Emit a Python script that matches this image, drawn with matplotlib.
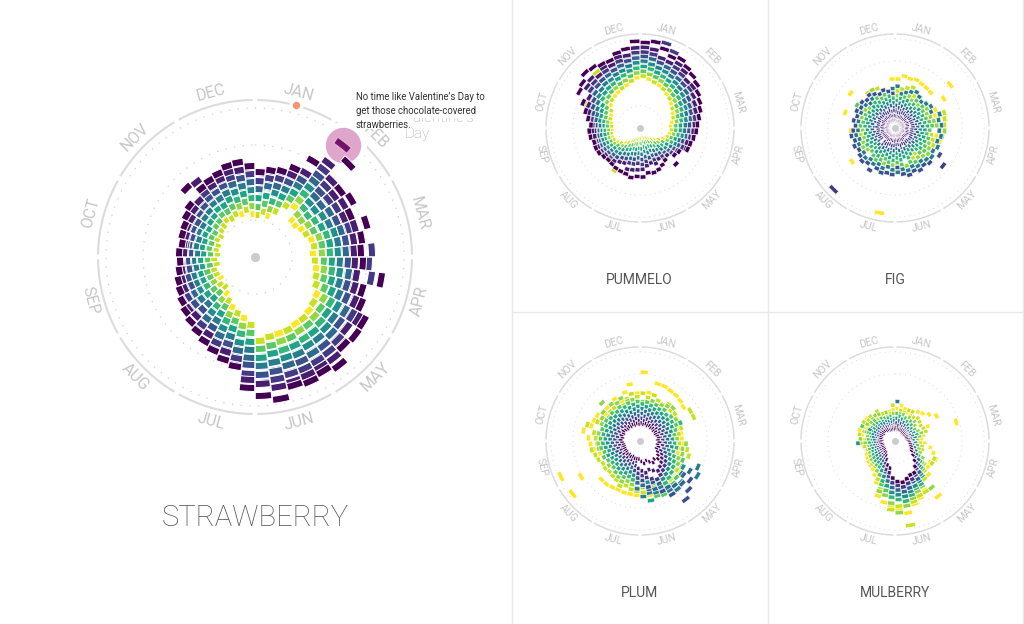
import numpy as np
import matplotlib
matplotlib.use("Agg")
import matplotlib.pyplot as plt
from matplotlib.lines import Line2D
from matplotlib.patches import Rectangle

plt.rcParams['font.family'] = ['Roboto', 'DejaVu Sans']

MONTHS = ['JAN','FEB','MAR','APR','MAY','JUN','JUL','AUG','SEP','OCT','NOV','DEC']
TITLES = ['STRAWBERRY','PUMMELO','FIG','PLUM','MULBERRY']
ANNOTATION = "No time like Valentine’s Day to\nget those chocolate-covered\nstrawberries."
HIDDEN_LABEL = "Valentine’s\nDay"

# each row: one week of the year; each column: one year, yellow (first) to purple (last)
STRAWBERRY = [
[42,42,50,50,58,59,66,67,68,75,76,84,85],[45,46,54,54,62,62,70,71,72,79,80,87,88],
[43,50,50,58,58,66,67,74,74,82,82,89,90],[50,50,58,58,65,66,73,74,81,82,89,90,97],
[60,60,67,68,75,75,82,83,90,90,97,98,112],[64,71,72,79,80,87,88,95,96,103,111,119,142],
[52,60,60,68,69,76,77,84,85,92,100,108,132],[51,58,59,67,67,75,76,84,84,92,93,100,108],
[54,62,62,70,70,78,79,86,87,95,95,103,112],[56,56,64,64,72,73,80,81,88,89,96,97,104],
[59,66,67,74,75,82,83,90,90,97,98,104,116],[60,60,68,68,76,76,84,84,92,92,100,100,108],
[58,66,67,74,75,83,83,90,91,98,117,99,106],[60,60,68,69,76,77,84,85,92,93,114,100,108],
[62,70,70,78,78,86,86,94,95,102,118,103,128],[63,64,71,72,79,80,87,88,95,96,103,104,112],
[67,67,75,76,84,84,92,92,100,100,108,109,116],[72,79,80,88,88,96,96,104,105,112,113,120,126],
[74,74,82,83,90,91,99,99,107,107,115,116,127],[76,84,84,92,92,100,100,108,108,116,117,124,125],
[77,78,86,86,94,95,103,103,111,112,120,128,137],[78,85,86,94,95,103,103,111,112,120,121,128,133],
[79,80,88,88,96,97,105,106,114,114,122,129,136],[80,88,88,96,97,105,105,113,113,121,122,130,134],
[81,81,89,90,98,98,107,107,115,116,124,132,144],[83,84,92,92,100,101,109,109,118,118,126,127,139],
[67,68,76,76,84,85,93,93,101,108,117,123,131],[62,70,70,78,78,86,87,94,95,102,103,110,111],
[58,59,66,67,74,75,82,83,90,91,98,99,107],[55,62,63,70,70,78,78,85,86,93,94,101,102],
[50,51,58,58,66,66,74,74,82,82,90,90,98],[46,53,54,61,62,69,70,77,78,85,86,93,94],
[41,42,50,50,58,58,66,66,74,74,82,83,91],[44,44,52,52,60,60,67,68,75,76,83,84,88],
[40,47,48,55,56,63,64,70,71,77,78,84,85],[41,42,49,49,56,57,63,64,70,70,76,77,82],
[43,43,50,50,57,57,63,64,70,70,76,76,80],[38,39,46,46,53,54,60,60,66,67,73,74,77],
[41,41,48,48,54,55,61,62,67,68,73,74,75],[37,38,44,45,51,52,58,58,64,65,70,71,76],
[40,40,46,47,53,54,60,60,66,67,70,72,74],[38,39,45,46,52,53,59,59,65,66,71,72,76],
[41,42,48,48,54,55,61,62,67,68,73,74,77],[40,40,46,47,53,54,60,61,67,67,73,74,80],
[42,43,49,50,56,57,63,64,70,71,76,77,83],[43,44,51,51,57,58,64,65,71,72,78,79,97],
[46,47,53,54,60,61,67,68,74,75,81,95,87],[44,45,52,53,60,60,67,68,75,76,82,83,89],
[47,47,55,55,62,63,70,70,77,78,84,85,91],[45,52,53,60,60,67,68,75,76,83,83,89,95],
[48,48,56,56,64,64,71,72,79,80,87,88,96],[43,50,51,59,59,66,67,74,75,82,83,90,91],
]
PUMMELO = [
[86,87,95,95,103,103,111,112,119,120,127,135,143],[83,91,91,99,100,107,108,116,117,124,125,133,146],
[80,80,88,89,97,97,105,105,113,114,148,122,138],[78,86,86,94,94,102,103,110,111,119,139,120,130],
[75,76,84,84,92,92,100,101,108,109,117,125,134],[72,80,80,88,88,96,96,104,104,112,113,120,128],
[69,70,78,78,86,86,94,94,102,103,110,111,124],[66,74,74,82,82,90,90,98,98,106,106,112,120],
[62,63,71,71,79,79,87,87,95,95,103,104,113],[60,67,68,75,76,83,84,90,91,98,99,100,109],
[57,58,65,66,73,73,81,81,88,89,96,97,105],[54,62,62,70,70,77,78,85,86,92,93,99,100],
[51,84,59,60,67,68,75,76,83,83,90,91,96],[52,53,60,60,67,68,74,75,81,82,88,89,94],
[50,57,57,64,65,71,72,78,79,84,85,90,91],[47,48,54,55,61,62,68,69,75,75,81,82,88],
[42,50,50,57,58,64,65,71,71,77,78,84,87],[35,36,44,44,52,52,59,60,66,67,72,73,76],
[30,38,38,46,46,53,54,60,61,66,67,72,73],[26,27,34,35,42,43,50,50,57,58,63,64,85],
[22,30,30,37,38,45,46,52,53,60,60,66,68],[18,19,27,27,35,35,43,44,51,52,59,60,72],
[17,25,25,33,33,41,41,49,50,57,58,65,76],[16,17,25,26,34,35,43,43,51,52,60,61,78],
[15,23,23,31,32,40,40,48,49,56,57,64,76],[16,17,25,26,34,35,43,44,52,53,61,69,82],
[17,25,25,33,34,42,42,50,50,58,59,70,81],[18,19,27,27,35,36,44,44,52,53,61,71,84],
[20,28,28,36,36,44,45,52,53,60,61,72,80],[22,23,31,31,39,39,47,48,55,56,63,64,79],
[25,83,33,34,41,42,49,50,57,58,65,66,78],[30,31,38,39,46,46,53,54,61,62,69,70,76],
[34,41,42,48,49,55,56,62,63,69,70,74,75],[40,40,47,47,54,54,60,61,66,67,72,73,77],
[44,50,50,56,56,62,63,68,69,74,75,79,80],[47,48,53,54,59,60,65,66,71,72,76,77,81],
[49,55,55,60,61,66,66,71,72,76,76,79,80],[48,49,54,55,60,60,66,67,72,72,76,77,84],
[47,53,53,59,60,65,66,70,71,75,76,80,85],[47,48,54,55,61,62,67,68,73,74,78,79,82],
[49,55,55,62,62,68,69,75,75,81,82,87,88],[51,52,60,60,67,68,75,75,82,82,88,89,95],
[53,101,62,62,70,70,78,78,85,86,93,94,104],[55,56,64,65,73,73,81,82,90,90,98,99,118],
[62,70,70,78,79,87,87,95,95,103,104,112,122],[65,66,74,74,82,83,91,91,100,100,108,116,130],
[68,118,76,77,85,85,93,94,102,102,110,111,128],[70,78,78,86,86,94,94,102,103,110,111,118,124],
[72,73,81,81,89,90,98,98,106,106,114,115,123],[75,83,83,91,92,100,100,108,109,116,117,124,131],
[79,80,88,88,96,97,105,105,113,114,122,123,134],[84,91,92,100,100,108,109,117,117,125,126,134,145],
]
FIG = [
[82,62,54,46,46,38,38,70,38,30,28,20,12],[88,66,58,50,50,42,42,58,34,34,26,19,11],
[86,70,62,54,46,46,38,62,38,30,26,18,10],[88,74,58,50,42,50,42,66,34,34,28,20,12],
[86,62,54,46,46,38,38,70,38,30,28,20,12],[85,66,58,58,50,42,42,66,34,34,27,19,11],
[84,54,54,46,46,38,38,62,38,30,26,20,12],[117,66,58,58,50,50,42,66,34,34,28,21,13],
[95,70,62,54,46,46,38,70,38,30,29,20,12],[74,66,58,50,50,42,42,66,34,34,28,22,14],
[70,86,62,54,46,38,38,78,38,30,29,21,12],[86,84,66,58,50,42,42,74,34,34,30,21,13],
[62,83,70,62,54,46,46,78,38,30,30,20,12],[82,74,83,58,50,50,42,74,34,34,28,19,11],
[70,62,80,54,46,46,38,78,38,30,28,20,12],[78,66,74,58,50,50,42,74,34,34,28,21,13],
[62,70,62,54,54,46,38,78,38,30,29,22,14],[66,58,66,58,50,42,42,74,34,87,30,21,12],
[62,54,70,62,54,46,38,78,38,30,102,20,11],[58,66,66,58,50,42,42,74,34,82,28,19,12],
[62,54,62,70,46,46,38,70,38,78,29,21,13],[50,58,66,66,50,42,42,74,34,82,30,22,14],
[54,46,62,62,54,46,38,70,38,78,28,20,12],[66,42,66,74,50,50,42,74,34,82,30,21,13],
[62,46,70,62,54,46,38,70,38,78,28,21,12],[50,74,66,58,50,42,34,74,34,66,27,20,11],
[46,46,62,70,54,46,38,70,38,78,29,22,13],[144,50,66,58,50,50,42,66,34,76,30,21,12],
[74,54,62,54,46,46,38,70,38,78,28,20,12],[50,58,66,58,50,42,42,66,34,74,29,21,13],
[46,46,62,62,54,46,38,70,38,82,30,22,14],[42,74,66,58,50,50,42,66,34,74,28,20,12],
[46,54,54,54,46,38,38,70,38,78,145,20,12],[91,50,58,50,50,42,34,66,34,74,28,20,12],
[46,46,62,54,54,46,38,70,38,70,29,21,13],[42,58,58,50,50,42,42,66,34,74,28,20,12],
[46,54,54,62,46,46,38,62,38,70,30,22,13],[74,58,66,50,50,42,42,66,34,74,28,21,13],
[74,46,54,62,46,46,38,62,38,70,28,20,12],[50,42,58,58,50,42,42,66,34,66,30,22,14],
[54,46,62,54,46,46,38,62,38,70,28,21,13],[87,50,58,50,50,42,42,66,34,66,29,20,12],
[46,54,62,54,46,46,38,62,38,70,28,21,12],[50,58,58,74,50,42,42,66,34,66,30,22,14],
[94,54,54,62,46,46,38,62,38,70,29,20,12],[42,50,58,66,50,50,42,58,34,66,28,21,13],
[46,74,62,54,54,46,38,62,38,70,30,22,14],[50,58,74,58,50,42,42,66,34,66,28,20,12],
[54,72,62,54,46,46,38,62,38,62,28,21,13],[50,58,66,58,50,42,42,66,34,66,30,22,14],
[54,46,62,54,54,46,38,62,38,62,28,20,12],[82,58,66,50,50,42,42,66,34,58,29,21,12],
]
PLUM = [
[115,80,66,62,62,54,54,46,46,38,38,30,30],[82,74,66,66,58,58,50,50,42,42,34,34,28],
[100,80,70,62,62,54,54,46,46,38,38,30,30],[100,74,66,66,58,58,50,50,42,42,34,34,28],
[98,72,70,62,62,54,54,46,46,38,38,30,30],[97,78,74,66,58,58,50,50,42,42,34,34,28],
[95,72,78,62,62,54,54,46,46,38,38,30,30],[92,74,66,66,58,58,50,50,42,42,34,34,28],
[72,98,70,62,62,54,54,46,46,38,38,30,30],[70,98,66,66,74,58,50,50,42,42,34,34,28],
[66,72,62,62,54,54,54,46,46,38,38,30,30],[70,66,58,58,50,50,50,42,42,42,34,34,32],
[70,62,62,54,54,54,46,46,46,38,38,30,30],[72,66,77,58,58,50,50,42,42,42,34,34,32],
[68,80,72,62,62,54,54,46,46,38,38,30,30],[66,85,74,58,58,50,50,42,42,34,34,32,32],
[62,72,70,78,62,54,54,106,46,46,38,38,30],[66,58,74,82,66,58,84,112,97,50,42,42,34],
[82,78,72,70,70,62,62,88,92,106,54,46,38],[84,76,74,86,74,66,66,97,100,115,58,50,42],
[88,82,78,90,78,70,70,102,94,124,62,54,38],[90,84,80,86,82,74,74,96,90,104,66,58,42],
[90,86,82,98,78,78,88,84,78,92,70,54,38],[92,86,80,96,74,74,66,90,84,72,66,50,34],
[92,84,80,78,70,101,70,88,82,78,62,54,38],[92,86,78,74,66,66,58,93,74,66,58,50,34],
[91,84,78,70,70,62,62,80,70,62,54,46,30],[90,82,74,66,66,58,58,50,50,50,42,34,30],
[90,78,70,62,62,54,54,46,46,38,38,30,30],[89,82,74,66,58,58,50,50,42,42,34,34,28],
[90,76,70,62,62,54,54,46,46,38,38,30,30],[91,74,66,66,58,58,50,50,42,42,34,34,28],
[91,72,62,62,54,54,46,46,46,38,38,30,30],[143,74,66,58,58,50,50,42,42,34,34,34,28],
[115,72,62,62,54,54,46,46,38,38,38,30,28],[145,76,66,66,58,58,50,50,42,42,34,34,28],
[70,78,62,62,54,54,46,46,38,38,38,30,28],[78,82,70,66,58,58,50,50,42,42,34,34,28],
[83,72,70,62,62,54,54,46,46,38,38,30,30],[86,74,66,66,58,58,50,50,42,42,34,34,32],
[96,78,70,62,62,54,54,46,46,38,38,30,30],[85,92,66,66,58,58,50,50,42,42,34,34,32],
[84,78,70,62,62,54,54,46,46,38,38,30,30],[83,74,74,66,58,58,50,50,42,42,34,34,32],
[72,66,78,62,62,54,54,46,46,38,38,30,30],[78,70,90,66,58,58,50,50,42,42,34,34,28],
[74,70,78,62,62,54,54,46,46,38,38,30,30],[82,74,74,66,58,58,50,50,42,42,34,34,28],
[72,66,78,62,62,54,54,46,46,38,38,30,30],[85,74,70,66,58,58,50,50,42,42,34,34,28],
[96,80,70,62,62,54,54,46,46,38,38,30,30],[80,74,66,66,58,58,50,50,42,42,34,34,28],
]
MULBERRY = [
[54,46,46,46,38,38,38,66,30,30,30,22,22],[60,52,46,42,42,34,34,34,34,26,26,26,20],
[56,50,46,38,38,38,30,30,30,30,22,22,20],[52,56,42,42,34,34,34,34,26,26,26,22,20],
[50,57,46,38,38,30,30,30,30,22,22,22,20],[62,50,42,42,34,34,34,26,26,26,22,22,18],
[65,54,46,38,38,30,30,30,22,22,22,20,18],[72,52,42,34,34,34,26,26,26,22,22,20,18],
[81,50,38,38,30,30,30,22,22,22,20,20,18],[60,52,42,34,34,34,26,26,26,26,22,22,20],
[107,54,46,38,38,30,30,30,30,22,22,22,20],[48,42,42,34,34,34,34,26,26,26,22,22,20],
[44,38,38,30,30,30,30,30,22,22,22,22,22],[50,42,34,34,34,34,26,26,26,26,24,24,24],
[60,46,38,38,30,30,30,30,30,26,26,26,26],[67,48,42,34,34,34,34,34,28,28,28,28,28],
[75,72,46,38,38,38,38,32,32,32,30,30,30],[68,72,54,46,46,42,42,42,36,36,36,32,32],
[70,62,58,54,54,50,50,50,42,42,42,38,38],[79,70,66,62,62,58,58,54,54,50,50,46,46],
[117,80,99,74,74,70,70,66,66,58,58,54,54],[96,99,88,84,84,78,78,74,74,66,66,62,62],
[104,100,92,86,86,82,82,74,74,70,70,62,62],[110,106,100,94,94,88,88,82,82,74,74,66,66],
[122,143,110,102,102,94,94,86,86,78,78,70,70],[115,109,120,98,98,90,90,82,82,74,74,68,68],
[109,115,104,94,94,86,86,78,78,70,70,62,62],[104,84,92,84,76,76,68,68,60,60,54,54,46],
[96,84,88,76,70,62,62,54,54,50,50,42,42],[76,70,62,62,54,54,46,46,40,40,34,34,34],
[66,58,58,50,50,44,44,38,38,32,32,28,28],[60,54,50,50,44,44,38,38,32,32,28,28,24],
[58,54,50,46,46,40,40,34,34,28,28,24,24],[56,50,50,44,44,38,38,32,32,26,26,22,22],
[54,48,48,42,42,36,36,30,30,26,26,22,22],[52,46,46,40,40,34,34,30,30,26,26,22,22],
[50,48,44,44,38,38,32,32,28,28,24,24,22],[48,52,44,40,40,34,34,30,30,26,26,22,22],
[46,56,50,42,42,36,62,32,32,28,28,24,24],[52,48,58,44,38,38,34,34,28,28,26,26,22],
[56,60,46,40,40,36,36,30,30,26,26,24,24],[62,54,50,46,42,38,38,32,32,28,28,24,24],
[52,58,44,60,40,36,46,36,30,30,26,26,24],[50,61,54,44,40,40,34,34,30,30,26,26,22],
[60,56,50,44,38,38,34,34,28,28,26,24,24],[46,58,52,48,42,36,36,32,32,28,28,24,24],
[50,46,54,40,40,36,36,30,30,26,26,24,22],[48,58,52,44,38,38,34,34,28,28,26,22,22],
[46,50,42,42,36,36,30,30,26,26,22,22,20],[48,44,50,40,40,34,34,28,28,24,24,22,20],
[50,46,42,42,36,36,32,32,26,26,22,22,20],[52,60,46,38,38,34,34,28,28,24,24,22,20],
]
GRID_VALUES = [37, 112, 149]
RING_VALUE = 157
HIGHLIGHT_WEEK, HIGHLIGHT_YEAR = 5, 12
MARKER_DAY_ANGLE = 15.2

W, H = 1024, 624
DPI = 100
RMAX = 172.0
YEAR_COLORS = plt.get_cmap('viridis_r')(np.linspace(0, 1, 13))

fig = plt.figure(figsize=(W / DPI, H / DPI), dpi=DPI, facecolor='white')


def polar_at(cx, cy, ring_px):
    rad = ring_px * RMAX / RING_VALUE
    ax = fig.add_axes([(cx - rad) / W, 1 - (cy + rad) / H, 2 * rad / W, 2 * rad / H],
                      projection='polar')
    ax.set_theta_zero_location('N')
    ax.set_theta_direction(-1)
    ax.set_ylim(0, RMAX)
    ax.set_axis_off()
    ax.patch.set_alpha(0)
    return ax


def draw_wheel(ax, rows, big):
    label_size = 11.5 if big else 7.6
    ring_lw = 1.5 if big else 1.1
    for m, name in enumerate(MONTHS):
        th = np.radians(np.linspace(m * 30 + 0.9, (m + 1) * 30 - 0.9, 40))
        ax.plot(th, np.full_like(th, RING_VALUE), color='#dcdcdc', lw=ring_lw, zorder=2,
                solid_capstyle='butt', clip_on=False)
        a = m * 30 + 15
        rot = -a if (a < 90 or a > 270) else 180 - a
        ax.text(np.radians(a), 170, name, rotation=rot, rotation_mode='anchor', ha='center',
                va='center', fontsize=label_size, color='#c6c6c6', zorder=2)
    th = np.linspace(0, 2 * np.pi, 361)
    for g in GRID_VALUES:
        ax.plot(th, np.full_like(th, g), color='#cfcfcf', lw=0.9 if big else 0.6, zorder=1,
                linestyle=(0, (1, 6 if big else 5)))
    arr = np.array(rows, dtype=float)
    step = 2 * np.pi / arr.shape[0]
    thick = 7.0
    for y in range(arr.shape[1]):
        theta = (np.arange(arr.shape[0]) + 0.5) * step
        ax.bar(theta, thick, width=step * 0.97, bottom=arr[:, y] - thick / 2,
               color=YEAR_COLORS[y], edgecolor='white', linewidth=0.7 if big else 0.45,
               zorder=5 + y * 0.01)
    ax.scatter([0], [0], s=32 if big else 16, color='#cccccc', zorder=6, clip_on=False)


ax_main = polar_at(255, 257, 157)
draw_wheel(ax_main, STRAWBERRY, True)
step_main = 2 * np.pi / len(STRAWBERRY)
hl_t = (HIGHLIGHT_WEEK + 0.5) * step_main
hl_r = STRAWBERRY[HIGHLIGHT_WEEK][HIGHLIGHT_YEAR]
ax_main.scatter([hl_t], [hl_r], s=1060, color='white', zorder=3, clip_on=False)
ax_main.scatter([hl_t], [hl_r], s=650, color='#dfa5cb', zorder=4, clip_on=False, linewidths=0)
ax_main.bar([hl_t], 7.0, width=step_main * 0.97, bottom=hl_r - 3.5, color='#6f1466',
            edgecolor='#dfa5cb', linewidth=0.7, zorder=7)
mk = np.radians(MARKER_DAY_ANGLE)
ax_main.scatter([mk], [RING_VALUE + 1], s=85, color='white', zorder=3, clip_on=False)
ax_main.scatter([mk], [RING_VALUE + 1], s=28, color='#f4956a', zorder=4, clip_on=False, linewidths=0)

for rows, (cx, cy) in zip([PUMMELO, FIG, PLUM, MULBERRY],
                          [(640, 128), (895, 128), (640, 441), (895, 441)]):
    draw_wheel(polar_at(cx, cy, 94), rows, False)

ov = fig.add_axes([0, 0, 1, 1], zorder=10)
ov.set_xlim(0, W)
ov.set_ylim(H, 0)
ov.set_axis_off()
ov.patch.set_alpha(0)

ov.text(405, 126, HIDDEN_LABEL, fontsize=11, color='#a8a8a8', ha='left', va='center',
        fontweight='light', linespacing=1.25, zorder=1)
ov.add_patch(Rectangle((352, 88), 136, 29.5, color='white', zorder=2, lw=0))
ov.add_patch(Rectangle((352, 117), 59, 12, color='white', zorder=2, lw=0))
ov.text(356, 110.5, ANNOTATION, fontsize=6.95, color='#333333', ha='left', va='center',
        linespacing=1.5, zorder=3)

ov.text(255, 518, TITLES[0], fontsize=21, color='#555555', ha='center', va='center',
        fontweight='light')
for t, x, y in zip(TITLES[1:], [639, 895, 639, 895], [280, 280, 593, 593]):
    ov.text(x, y, t, fontsize=10, color='#555555', ha='center', va='center')

for x in [511.5, 767.5, 1022.5]:
    ov.add_line(Line2D([x, x], [0, H], color='#e8e8e8', lw=1))
ov.add_line(Line2D([511.5, 1022.5], [311.5, 311.5], color='#e8e8e8', lw=1))

fig.savefig('out.png', dpi=DPI, facecolor='white')
